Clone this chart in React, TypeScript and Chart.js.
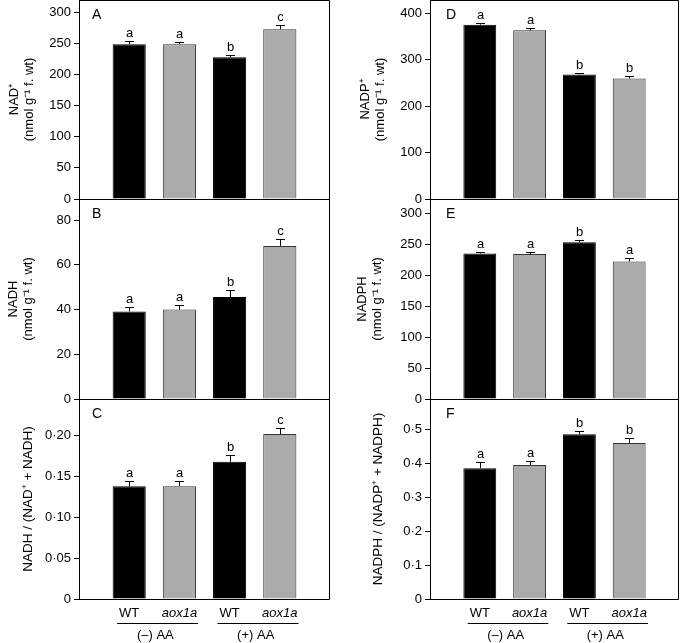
import React, { useEffect, useRef } from 'react';
import { Chart, registerables } from 'chart.js';

Chart.register(...registerables);

const FONT = "'Liberation Sans', Arial, Helvetica, sans-serif";

// ---------- data ----------
const genotypes = ['WT', 'aox1a', 'WT', 'aox1a'];
const treatments = ['(–) AA', '(+) AA'];
const barX = [1, 2, 3, 4];
const barColors = ['#000000', '#ababab', '#000000', '#ababab'];
const barBorders = ['#000000', '#333333', '#000000', '#333333'];

const nadValues = [249, 249, 228, 273];
const nadErrors = [5, 4, 3, 6];
const nadLetters = ['a', 'a', 'b', 'c'];
const nadTicks = [0, 50, 100, 150, 200, 250, 300];
const nadTickLabels = ['0', '50', '100', '150', '200', '250', '300'];

const nadhValues = [39.2, 40.0, 45.7, 68.5];
const nadhErrors = [1.8, 2.1, 3.2, 3.0];
const nadhLetters = ['a', 'a', 'b', 'c'];
const nadhTicks = [0, 20, 40, 60, 80];
const nadhTickLabels = ['0', '20', '40', '60', '80'];

const nadRatioValues = [0.138, 0.138, 0.168, 0.202];
const nadRatioErrors = [0.007, 0.007, 0.008, 0.007];
const nadRatioLetters = ['a', 'a', 'b', 'c'];
const nadRatioTicks = [0, 0.05, 0.1, 0.15, 0.2];
const nadRatioTickLabels = ['0', '0·05', '0·10', '0·15', '0·20'];

const nadpValues = [375, 363, 268, 259];
const nadpErrors = [4, 5, 4, 5];
const nadpLetters = ['a', 'a', 'b', 'b'];
const nadpTicks = [0, 100, 200, 300, 400];
const nadpTickLabels = ['0', '100', '200', '300', '400'];

const nadphValues = [235, 234, 253, 222];
const nadphErrors = [3, 4, 4, 5];
const nadphLetters = ['a', 'a', 'b', 'a'];
const nadphTicks = [0, 50, 100, 150, 200, 250, 300];
const nadphTickLabels = ['0', '50', '100', '150', '200', '250', '300'];

const nadpRatioValues = [0.386, 0.395, 0.486, 0.46];
const nadpRatioErrors = [0.017, 0.012, 0.009, 0.016];
const nadpRatioLetters = ['a', 'a', 'b', 'b'];
const nadpRatioTicks = [0, 0.1, 0.2, 0.3, 0.4, 0.5];
const nadpRatioTickLabels = ['0', '0·1', '0·2', '0·3', '0·4', '0·5'];

// ---------- layout ----------
const columns = [
  { left: 0, axisWidth: 79, padRight: 10, letterOffset: 13 },
  { left: 340, axisWidth: 90, padRight: 1, letterOffset: 16 },
];
const rows = [
  { top: 0, height: 208, padBottom: 9 },
  { top: 199, height: 209, padBottom: 9 },
  { top: 399, height: 244, padBottom: 44 },
];

type PanelDef = {
  id: string;
  col: number;
  row: number;
  values: number[];
  errors: number[];
  letters: string[];
  max: number;
  ticks: number[];
  tickLabels: string[];
  title: string | string[];
  titleSize: number;
  titlePad: number;
};

const panels: PanelDef[] = [
  { id: 'A', col: 0, row: 0, values: nadValues, errors: nadErrors, letters: nadLetters, max: 320, ticks: nadTicks, tickLabels: nadTickLabels, title: ['NAD⁺', '(nmol g⁻¹ f. wt)'], titleSize: 13, titlePad: 7 },
  { id: 'B', col: 0, row: 1, values: nadhValues, errors: nadhErrors, letters: nadhLetters, max: 89.5, ticks: nadhTicks, tickLabels: nadhTickLabels, title: ['NADH', '(nmol g⁻¹ f. wt)'], titleSize: 13, titlePad: 5.5 },
  { id: 'C', col: 0, row: 2, values: nadRatioValues, errors: nadRatioErrors, letters: nadRatioLetters, max: 0.245, ticks: nadRatioTicks, tickLabels: nadRatioTickLabels, title: 'NADH / (NAD⁺ + NADH)', titleSize: 13.5, titlePad: 21 },
  { id: 'D', col: 1, row: 0, values: nadpValues, errors: nadpErrors, letters: nadpLetters, max: 428, ticks: nadpTicks, tickLabels: nadpTickLabels, title: ['NADP⁺', '(nmol g⁻¹ f. wt)'], titleSize: 13, titlePad: 17.5 },
  { id: 'E', col: 1, row: 1, values: nadphValues, errors: nadphErrors, letters: nadphLetters, max: 323, ticks: nadphTicks, tickLabels: nadphTickLabels, title: ['NADPH', '(nmol g⁻¹ f. wt)'], titleSize: 13, titlePad: 14.5 },
  { id: 'F', col: 1, row: 2, values: nadpRatioValues, errors: nadpRatioErrors, letters: nadpRatioLetters, max: 0.59, ticks: nadpRatioTicks, tickLabels: nadpRatioTickLabels, title: 'NADPH / (NADP⁺ + NADPH)', titleSize: 13.5, titlePad: 30.5 },
];

function Panel({ p }: { p: PanelDef }) {
  const ref = useRef<HTMLCanvasElement>(null);
  const col = columns[p.col];
  const row = rows[p.row];

  useEffect(() => {
    const canvas = ref.current;
    if (!canvas) return;

    const framePlugin = {
      id: 'frame',
      afterDatasetsDraw(chart: any) {
        const { ctx, chartArea } = chart;
        const l = Math.round(chartArea.left) + 0.5;
        const r = Math.round(chartArea.right) - 0.5;
        const t = Math.round(chartArea.top) + 0.5;
        const b = Math.round(chartArea.bottom) + 0.5;
        ctx.save();
        ctx.strokeStyle = '#000';
        ctx.lineWidth = 1;
        ctx.beginPath();
        ctx.moveTo(l, t);
        ctx.lineTo(r, t);
        ctx.lineTo(r, b);
        ctx.lineTo(l, b);
        ctx.closePath();
        ctx.stroke();
        ctx.restore();
      },
    };

    const errorPlugin = {
      id: 'errorBarsLetters',
      afterDatasetsDraw(chart: any) {
        const { ctx } = chart;
        const xs = chart.scales.x;
        const ys = chart.scales.y;
        ctx.save();
        ctx.strokeStyle = '#000';
        ctx.fillStyle = '#000';
        ctx.lineWidth = 1;
        barX.forEach((xv, i) => {
          const x = Math.round(xs.getPixelForValue(xv)) + 0.5;
          const yTop = ys.getPixelForValue(p.values[i]);
          const yCap = Math.round(ys.getPixelForValue(p.values[i] + p.errors[i])) + 0.5;
          ctx.beginPath();
          ctx.moveTo(x, yTop);
          ctx.lineTo(x, yCap);
          ctx.moveTo(x - 4.5, yCap);
          ctx.lineTo(x + 4.5, yCap);
          ctx.stroke();
          ctx.font = `13px ${FONT}`;
          ctx.textAlign = 'center';
          ctx.textBaseline = 'alphabetic';
          ctx.fillText(p.letters[i], x, yCap - 5);
        });
        ctx.font = `14px ${FONT}`;
        ctx.textAlign = 'left';
        ctx.fillText(p.id, chart.chartArea.left + col.letterOffset, chart.chartArea.top + 19);
        ctx.restore();
      },
    };

    const xLabelPlugin = {
      id: 'xLabels',
      afterDraw(chart: any) {
        if (p.row !== 2) return;
        const { ctx, chartArea } = chart;
        const xs = chart.scales.x;
        const base = chartArea.bottom;
        ctx.save();
        ctx.fillStyle = '#000';
        ctx.strokeStyle = '#000';
        ctx.lineWidth = 1;
        ctx.textAlign = 'center';
        ctx.textBaseline = 'alphabetic';
        const widths: number[] = [];
        genotypes.forEach((g, i) => {
          ctx.font = `${i % 2 === 1 ? 'italic ' : ''}13px ${FONT}`;
          const x = xs.getPixelForValue(barX[i]);
          ctx.fillText(g, x, base + 18);
          widths.push(ctx.measureText(g).width);
        });
        treatments.forEach((t, g) => {
          const x1 = xs.getPixelForValue(barX[2 * g]);
          const x2 = xs.getPixelForValue(barX[2 * g + 1]);
          const ly = Math.round(base + 24) + 0.5;
          ctx.beginPath();
          ctx.moveTo(x1 - widths[2 * g] / 2 - 2, ly);
          ctx.lineTo(x2 + widths[2 * g + 1] / 2 + 1, ly);
          ctx.stroke();
          ctx.font = `13px ${FONT}`;
          ctx.fillText(t, (x1 + x2) / 2 + 1, base + 40);
        });
        ctx.restore();
      },
    };

    const chart = new Chart(canvas, {
      type: 'bar',
      data: {
        datasets: [
          {
            data: barX.map((x, i) => ({ x, y: p.values[i] })),
            backgroundColor: barColors,
            borderColor: barBorders,
            borderWidth: 1,
            barPercentage: 0.66,
            categoryPercentage: 1,
          } as any,
        ],
      },
      options: {
        responsive: false,
        animation: false,
        devicePixelRatio: 1,
        events: [],
        layout: { padding: { left: 0, right: col.padRight, top: 0, bottom: row.padBottom } },
        plugins: {
          legend: { display: false },
          tooltip: { enabled: false },
          title: { display: false },
        },
        scales: {
          x: {
            type: 'linear',
            display: false,
            offset: false,
            min: 0,
            max: 5,
            ticks: { stepSize: 1 },
            grid: { offset: false },
          },
          y: {
            type: 'linear',
            min: 0,
            max: p.max,
            afterBuildTicks: (s: any) => {
              s.ticks = p.ticks.map((v) => ({ value: v }));
            },
            afterFit: (s: any) => {
              s.width = col.axisWidth;
              s.paddingTop = 0;
              s.paddingBottom = 0;
            },
            ticks: {
              callback: (_v: any, i: number) => p.tickLabels[i],
              font: { family: FONT, size: 13 },
              color: '#000',
              padding: 3,
              autoSkip: false,
            },
            grid: { drawOnChartArea: false, drawTicks: true, tickLength: 5, color: '#000', lineWidth: 1 },
            border: { display: true, color: '#000', width: 1 },
            title: {
              display: true,
              text: p.title,
              color: '#000',
              font: { family: FONT, size: p.titleSize, lineHeight: 1.15 },
              padding: { top: p.titlePad, bottom: 0 },
            },
          },
        },
      } as any,
      plugins: [framePlugin, errorPlugin, xLabelPlugin],
    });
    return () => chart.destroy();
  }, []);

  return (
    <canvas
      ref={ref}
      width={340}
      height={row.height}
      style={{ position: 'absolute', left: col.left, top: row.top, width: 340, height: row.height }}
    />
  );
}

export default function App() {
  return (
    <div style={{ position: 'absolute', left: 0, top: 0, width: 680, height: 643, background: '#fff', overflow: 'hidden' }}>
      {panels.map((p) => (
        <Panel key={p.id} p={p} />
      ))}
    </div>
  );
}
